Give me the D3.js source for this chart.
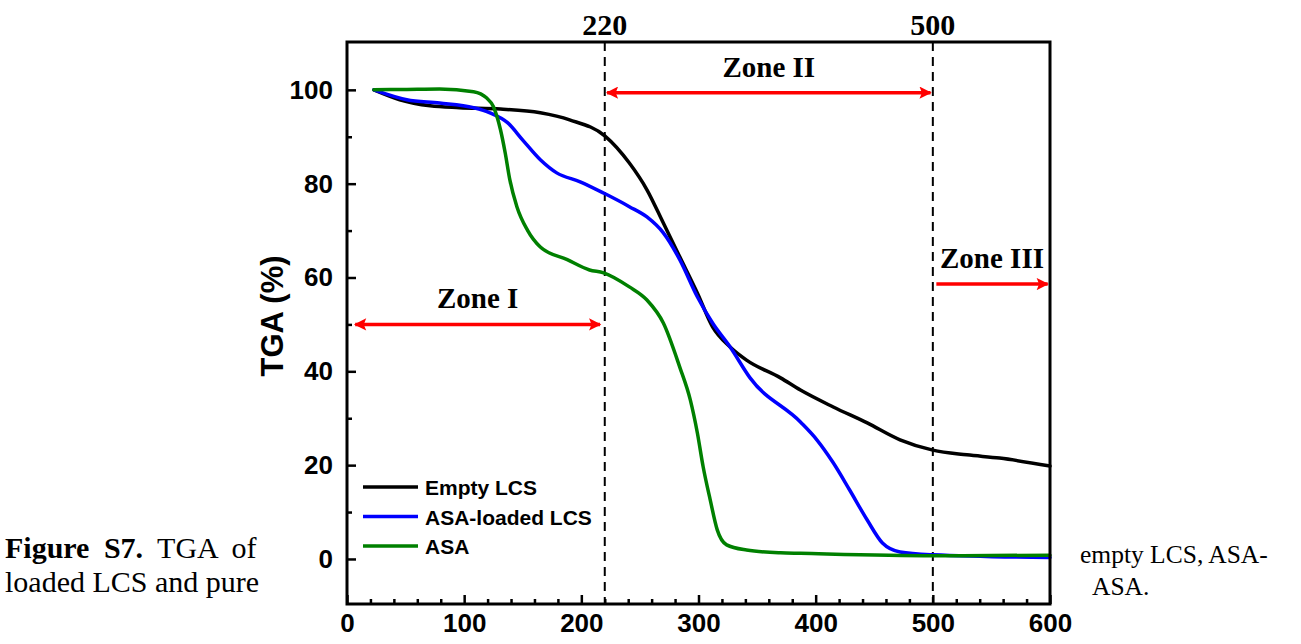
<!DOCTYPE html>
<html>
<head>
<meta charset="utf-8">
<script src="https://cdn.jsdelivr.net/npm/d3@7"></script>
<style>
body { margin: 0; background: #fff; }
svg { display: block; }
</style>
</head>
<body>
<script>
w = 1301;
h = 644;

// data
var emptyT = [23, 45, 71, 96, 131, 165, 190, 220, 241, 256, 270, 284, 299, 312, 327, 341, 370, 387, 415, 444, 472, 500, 529, 557, 600];
var emptyV = [100, 97.9, 96.6, 96.2, 95.9, 95.1, 93.6, 90.2, 84.4, 78.7, 71.6, 64.4, 56.7, 49.5, 45.2, 42.4, 38.6, 36.0, 32.4, 29.0, 25.4, 23.2, 22.2, 21.5, 19.8];

var loadedT = [23, 51, 79, 108, 122, 137, 150, 165, 179, 199, 219, 241, 256, 270, 284, 299, 312, 327, 344, 387, 401, 415, 429, 444, 457, 472, 500, 600];
var loadedV = [100, 97.9, 97.2, 96.2, 95.1, 93.0, 89.3, 85.1, 82.3, 80.4, 78.0, 75.1, 72.9, 69.5, 63.8, 55.9, 50.3, 45.2, 38.6, 29.2, 25.4, 20.5, 14.7, 8.3, 3.4, 1.5, 0.9, 0.3];

var asaT = [23, 51, 79, 108, 119, 125, 131, 135, 139, 145, 154, 165, 188, 207, 219, 241, 256, 270, 284, 293, 299, 304, 310, 316, 324, 341, 370, 387, 500, 600];
var asaV = [100, 100.1, 100.2, 99.6, 98.3, 96.4, 91.5, 86.6, 80.8, 75.1, 70.1, 66.5, 63.8, 61.6, 61.0, 58.0, 55.2, 50.3, 40.9, 33.9, 26.9, 19.6, 12.6, 6.2, 3.0, 1.9, 1.3, 1.2, 0.7, 0.8];

var seriesNames = ["Empty LCS", "ASA-loaded LCS", "ASA"];
var seriesColours = ["#000000", "#0000ff", "#008000"];

var xTicks = [0, 100, 200, 300, 400, 500, 600];
var yTicks = [0, 20, 40, 60, 80, 100];
var zoneBounds = [220, 500];
var zones = [
  { name: "Zone I", from: 7, to: 216, level: 50, both: true },
  { name: "Zone II", from: 222, to: 498, level: 99.4, both: true },
  { name: "Zone III", from: 503, to: 598, level: 58.6, both: false }
];

var plotLeft = 347, plotRight = 1050, plotTop = 42, plotBottom = 604;

var x = d3.scaleLinear().domain([0, 600]).range([plotLeft, plotRight]);
var y = d3.scaleLinear().domain([-9.6, 110.2]).range([plotBottom, plotTop]);

var svg = d3.select("body").append("svg")
  .attr("width", w)
  .attr("height", h);

var defs = svg.append("defs");
defs.append("marker")
  .attr("id", "arrowEnd")
  .attr("viewBox", "0 0 10 10")
  .attr("refX", 9).attr("refY", 5)
  .attr("markerWidth", 4.5).attr("markerHeight", 3.5)
  .attr("markerUnits", "strokeWidth")
  .attr("orient", "auto")
  .append("path").attr("d", "M0,0 L10,5 L0,10 L2,5 z").attr("fill", "#ff0000");
defs.append("marker")
  .attr("id", "arrowStart")
  .attr("viewBox", "0 0 10 10")
  .attr("refX", 1).attr("refY", 5)
  .attr("markerWidth", 4.5).attr("markerHeight", 3.5)
  .attr("markerUnits", "strokeWidth")
  .attr("orient", "auto")
  .append("path").attr("d", "M10,0 L0,5 L10,10 L8,5 z").attr("fill", "#ff0000");

var serif = "'Liberation Serif', 'Times New Roman', serif";
var sans = "'Liberation Sans', Arial, sans-serif";

// caption text (lines of the page around the figure)
var cap1 = svg.append("text").attr("x", 5).attr("y", 558)
  .style("font-family", serif).style("font-size", "30px")
  .style("word-spacing", "7px");
cap1.append("tspan").style("font-weight", "bold").text("Figure S7.");
cap1.append("tspan").text(" TGA of");
svg.append("text").attr("x", 5).attr("y", 592)
  .style("font-family", serif).style("font-size", "30px")
  .text("loaded LCS and pure");
svg.append("text").attr("x", 1080).attr("y", 563)
  .style("font-family", serif).style("font-size", "25.5px")
  .text("empty LCS, ASA-");
svg.append("text").attr("x", 1092).attr("y", 595)
  .style("font-family", serif).style("font-size", "25.5px")
  .text("ASA.");

// axes, ticks pointing inward
svg.append("g")
  .attr("transform", "translate(0," + plotBottom + ")")
  .call(d3.axisBottom(x).tickValues(xTicks).tickSize(-9).tickPadding(10).tickFormat(d3.format("d")));
svg.append("g")
  .attr("transform", "translate(0," + plotBottom + ")")
  .call(d3.axisBottom(x).tickValues(d3.range(20, 600, 20).filter(function(d){ return d % 100 != 0; })).tickSize(-5).tickFormat(""));

var yAxis = svg.append("g")
  .attr("transform", "translate(" + plotLeft + ",0)")
  .call(d3.axisLeft(y).tickValues(yTicks).tickSize(-9).tickPadding(14).tickFormat(d3.format("d")));
svg.append("g")
  .attr("transform", "translate(" + plotLeft + ",0)")
  .call(d3.axisLeft(y).tickValues([10, 30, 50, 70, 90]).tickSize(-5).tickFormat(""));

svg.selectAll(".domain").remove();
svg.selectAll(".tick line").attr("stroke", "#000").attr("stroke-width", 2.5);
svg.selectAll(".tick text")
  .attr("fill", "#000")
  .style("font-family", sans)
  .style("font-weight", "bold")
  .style("font-size", "26px");

svg.append("text")
  .attr("transform", "translate(283,316) rotate(-90)")
  .attr("text-anchor", "middle")
  .style("font-family", sans)
  .style("font-weight", "bold")
  .style("font-size", "31px")
  .text("TGA (%)");

// zone boundaries
zoneBounds.forEach(function(b){
  svg.append("line")
    .attr("x1", x(b)).attr("x2", x(b))
    .attr("y1", plotTop).attr("y2", plotBottom)
    .attr("stroke", "#000").attr("stroke-width", 2)
    .attr("stroke-dasharray", "9,6");
  svg.append("text")
    .attr("x", x(b)).attr("y", 35)
    .attr("text-anchor", "middle")
    .style("font-family", serif)
    .style("font-weight", "bold")
    .style("font-size", "30px")
    .text(b);
});

// curves
var line = d3.line()
  .x(function(d){ return x(d[0]); })
  .y(function(d){ return y(d[1]); })
  .curve(d3.curveMonotoneX);

var seriesData = [
  d3.zip(emptyT, emptyV),
  d3.zip(loadedT, loadedV),
  d3.zip(asaT, asaV)
];

svg.selectAll("path.curve")
  .data(seriesData)
  .enter()
  .append("path")
  .attr("class", "curve")
  .attr("d", line)
  .attr("fill", "none")
  .attr("stroke", function(d, i){ return seriesColours[i]; })
  .attr("stroke-width", 3.5)
  .attr("stroke-linejoin", "round")
  .attr("stroke-linecap", "round");

// zone arrows
zones.forEach(function(z){
  var a = svg.append("line")
    .attr("x1", x(z.from)).attr("x2", x(z.to))
    .attr("y1", y(z.level)).attr("y2", y(z.level))
    .attr("stroke", "#ff0000").attr("stroke-width", 3.5)
    .attr("marker-end", "url(#arrowEnd)");
  if(z.both) a.attr("marker-start", "url(#arrowStart)");
  svg.append("text")
    .attr("x", (x(z.from) + x(z.to)) / 2)
    .attr("y", y(z.level) - 16)
    .attr("text-anchor", "middle")
    .style("font-family", serif)
    .style("font-weight", "bold")
    .style("font-size", "29px")
    .text(z.name);
});

// legend
var legend = svg.append("g");
seriesNames.forEach(function(name, i){
  var ly = 487 + i * 29.5;
  legend.append("line")
    .attr("x1", 363).attr("x2", 418)
    .attr("y1", ly).attr("y2", ly)
    .attr("stroke", seriesColours[i]).attr("stroke-width", 3.5);
  legend.append("text")
    .attr("x", 425).attr("y", ly + 8)
    .style("font-family", sans)
    .style("font-weight", "bold")
    .style("font-size", "21px")
    .text(name);
});

// frame
svg.append("rect")
  .attr("x", plotLeft).attr("y", plotTop)
  .attr("width", plotRight - plotLeft).attr("height", plotBottom - plotTop)
  .attr("fill", "none")
  .attr("stroke", "#000")
  .attr("stroke-width", 3);
</script>
</body>
</html>
